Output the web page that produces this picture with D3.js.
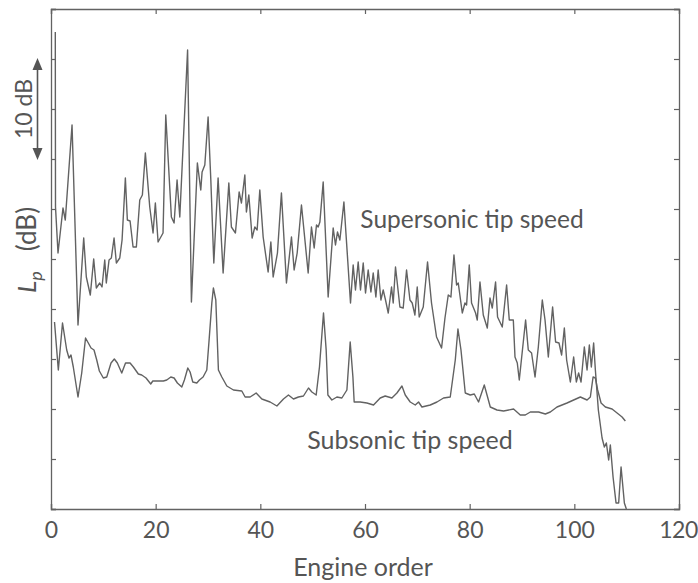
<!DOCTYPE html>
<html>
<head>
<meta charset="utf-8">
<script src="https://cdn.jsdelivr.net/npm/d3@7"></script>
<style>
  html, body { margin: 0; padding: 0; background: #fff; }
  svg { display: block; }
  text { font-family: Lato, "Open Sans", sans-serif; fill: #555; }
</style>
</head>
<body>
<svg id="chart" width="698" height="583"></svg>
<script>
// Engine order (x) and level in dB above arbitrary datum (y)
const superOrder = [0.82,0.86,1.34,2.29,2.73,4.02,5.16,6.25,6.75,7.51,8.16,8.66,9.31,9.75,10.27,10.57,11.09,11.53,12.05,12.49,13.14,13.58,14.21,14.59,15.11,15.68,16.31,16.96,17.46,18.03,18.87,19.50,19.94,20.46,21.41,21.93,23.00,23.52,24.09,24.61,26.10,26.83,27.97,28.62,28.87,29.39,30.02,30.54,31.11,31.93,32.89,33.98,34.47,35.24,35.95,36.39,37.04,37.34,37.80,38.43,38.95,39.39,39.90,40.54,41.49,42.01,42.45,43.27,44.03,44.99,45.95,46.46,47.04,47.86,49.14,49.77,50.29,50.73,51.05,51.38,52.01,52.96,53.92,54.36,54.74,55.20,55.97,57.23,57.74,58.18,58.70,59.14,59.66,60.10,60.61,61.13,61.57,62.08,62.52,63.04,63.48,63.92,64.44,65.07,65.39,65.83,66.67,67.30,67.94,68.59,69.02,69.54,69.98,70.36,71.13,71.95,72.71,73.67,74.63,75.28,75.91,76.42,77.00,77.50,77.82,78.59,79.10,79.41,79.92,80.36,81.13,81.45,81.97,82.60,83.37,83.88,84.32,84.95,85.33,86.23,87.06,87.57,88.34,88.66,89.10,89.48,90.69,91.20,91.83,92.49,93.12,93.88,94.40,95.03,95.85,96.42,97.07,97.57,98.09,98.53,99.24,99.87,100.38,100.82,101.28,101.91,102.43,102.87,103.25,103.69,104.02,104.59,105.30,105.74,106.12,106.56,106.88,107.40,107.97,108.47,108.93,109.56,109.94];
const superLevel = [47.7,30.2,25.6,30.1,28.9,38.4,18.4,27.1,23.2,21.4,25.0,22.1,22.6,22.2,24.9,22.6,24.9,25.1,27.1,24.6,25.1,26.9,33.1,28.9,28.8,26.2,26.2,30.9,31.4,35.6,30.2,27.6,30.6,26.7,27.6,39.4,29.2,28.6,32.9,29.2,45.9,20.7,34.6,31.9,33.7,34.4,39.2,32.9,24.6,33.1,23.6,32.6,28.2,27.6,31.7,30.6,33.4,29.7,31.4,27.1,28.2,27.9,31.9,27.2,23.7,26.7,23.2,25.6,31.6,22.6,27.2,23.9,25.6,30.4,23.6,28.2,26.1,28.4,28.2,28.7,32.7,21.2,28.1,26.4,27.7,26.9,30.7,20.6,24.4,21.9,24.7,21.9,24.6,21.6,23.9,21.7,23.6,21.2,23.9,20.9,21.9,20.9,19.6,22.2,20.6,24.2,20.2,20.1,23.9,20.9,20.6,19.4,22.2,19.2,20.2,24.7,20.6,17.2,16.1,19.1,21.4,21.2,25.4,22.4,22.6,19.6,20.6,20.4,24.4,20.6,19.6,18.9,22.7,19.4,18.1,21.1,20.1,22.7,19.2,18.2,22.4,18.9,18.9,15.2,14.6,12.9,18.9,15.9,15.6,13.2,16.2,20.9,18.9,15.2,20.2,16.7,16.6,15.4,18.1,14.9,12.7,15.2,12.7,13.6,12.7,16.2,13.9,16.4,14.2,16.6,13.9,9.9,7.1,6.2,6.6,4.9,6.4,3.2,0.6,0.6,4.2,0.6,0.0];

const subOrder = [0.67,1.40,2.20,3.00,3.44,3.82,4.26,5.16,5.87,6.60,7.13,7.65,8.22,8.74,9.24,10.00,10.65,11.47,12.10,12.68,13.52,14.24,15.11,15.74,16.69,17.34,18.16,19.06,19.45,21.47,22.12,22.89,23.52,24.15,24.99,25.49,26.14,26.58,27.09,27.86,28.36,29.06,29.77,30.21,30.73,31.03,31.49,31.99,32.64,33.60,34.86,36.46,37.09,38.05,39.20,40.29,41.87,43.16,44.42,45.37,46.33,47.28,48.24,49.20,49.85,50.67,51.30,52.07,52.58,52.91,53.67,54.63,55.58,56.54,57.17,57.69,57.93,59.08,60.36,61.63,62.91,63.86,65.14,66.10,67.06,67.69,68.64,69.60,70.23,70.88,72.47,73.75,75.01,76.29,77.25,77.76,78.34,79.16,80.11,80.88,81.70,82.79,83.42,83.94,85.22,86.48,88.39,89.67,90.63,91.59,93.17,94.46,95.41,96.69,98.60,99.87,101.15,102.43,103.06,103.58,104.02,104.46,105.11,105.93,107.21,108.17,109.12,109.75];
const subLevel = [18.7,13.9,18.6,15.9,15.1,15.4,14.2,11.2,13.6,17.1,16.6,16.1,15.9,14.9,13.8,13.1,13.2,14.6,15.0,14.6,13.6,14.6,14.6,14.2,13.5,13.4,13.1,12.5,12.8,12.8,12.9,13.2,13.1,12.6,12.2,12.9,14.1,13.7,12.7,12.6,12.9,13.2,13.9,16.9,20.6,22.1,20.9,13.9,13.2,12.3,11.9,11.8,11.2,11.2,11.6,11.0,10.7,10.3,11.0,11.4,11.0,11.2,11.3,12.1,11.7,11.4,14.2,19.6,15.9,11.4,10.9,11.2,11.1,11.9,16.7,13.2,10.7,10.7,10.6,10.4,11.1,11.3,11.1,11.6,12.3,11.4,10.7,10.4,10.7,10.2,10.4,10.7,11.1,11.2,14.9,18.0,15.9,11.6,11.4,11.5,10.7,12.4,11.2,10.2,9.9,9.8,10.0,9.4,9.4,9.7,9.7,9.5,9.7,10.2,10.6,10.9,11.2,10.9,11.2,13.2,13.1,11.9,10.6,10.2,10.0,9.6,9.2,8.8];

const xTicks = [0, 20, 40, 60, 80, 100, 120];
const yTicks = [0, 5, 10, 15, 20, 25, 30, 35, 40, 45, 50];
const xTitle = "Engine order";
const yTitleMain = "L";
const yTitleSub = "p";
const yTitleUnit = "(dB)";
const scaleBarLabel = "10 dB";
const superLabel = "Supersonic tip speed";
const subLabel = "Subsonic tip speed";

const svg = d3.select("#chart");
const L = 51, R = 679, T = 9, B = 509;
const x = d3.scaleLinear().domain([0, 120]).range([L, R]);
const y = d3.scaleLinear().domain([0, 50]).range([B, T]);
const stroke = "#626262";

// axes (inward ticks)
const tk = 5;
const gB = svg.append("g").attr("transform", `translate(0,${B})`)
  .call(d3.axisBottom(x).tickValues(xTicks).tickSize(-tk).tickPadding(13).tickFormat(d3.format("d")));
const gT = svg.append("g").attr("transform", `translate(0,${T})`)
  .call(d3.axisTop(x).tickValues(xTicks).tickSize(-tk).tickFormat(""));
const gL = svg.append("g").attr("transform", `translate(${L},0)`)
  .call(d3.axisLeft(y).tickValues(yTicks).tickSize(-tk).tickFormat(""));
const gR = svg.append("g").attr("transform", `translate(${R},0)`)
  .call(d3.axisRight(y).tickValues(yTicks).tickSize(-tk).tickFormat(""));
[gB, gT, gL, gR].forEach(g => {
  g.select(".domain").attr("stroke", stroke).attr("stroke-width", 1.3);
  g.selectAll(".tick line").attr("stroke", stroke).attr("stroke-width", 1.2);
});
gB.selectAll(".tick text").attr("font-size", 23).attr("fill", "#555")
  .attr("font-family", "Lato, sans-serif")
  .attr("dx", d => d === 120 ? -1 : 0)
  .attr("letter-spacing", d => d === 120 ? -0.5 : 0);

// lines
const line = d3.line().x(d => x(d[0])).y(d => y(d[1]));
svg.append("path")
  .datum(superOrder.map((o, i) => [o, superLevel[i]]))
  .attr("d", line).attr("fill", "none").attr("stroke", stroke)
  .attr("stroke-width", 1.4).attr("stroke-linejoin", "round");
svg.append("path")
  .datum(subOrder.map((o, i) => [o, subLevel[i]]))
  .attr("d", line).attr("fill", "none").attr("stroke", stroke)
  .attr("stroke-width", 1.4).attr("stroke-linejoin", "round");

// labels
svg.append("text").attr("x", 363).attr("y", 576).attr("text-anchor", "middle")
  .attr("font-size", 25).text(xTitle);
svg.append("text").attr("x", 472).attr("y", 228).attr("text-anchor", "middle")
  .attr("font-size", 24.5).text(superLabel);
svg.append("text").attr("x", 410).attr("y", 449).attr("text-anchor", "middle")
  .attr("font-size", 25).text(subLabel);

const yt = svg.append("text").attr("transform", "translate(36,250) rotate(-90)")
  .attr("text-anchor", "middle").attr("font-size", 26);
yt.append("tspan").attr("font-style", "italic").text(yTitleMain);
yt.append("tspan").attr("font-style", "italic").attr("font-size", 18).attr("dy", 6).text(yTitleSub);
yt.append("tspan").attr("dy", -6).attr("dx", 20).text(yTitleUnit);

// 10 dB scale arrow
const ax = 37.5, yTop = y(45), yBot = y(35);
svg.append("line").attr("x1", ax).attr("x2", ax).attr("y1", yTop + 8).attr("y2", yBot - 8)
  .attr("stroke", "#555").attr("stroke-width", 1.6);
svg.append("path").attr("d", `M${ax},${yTop - 1} L${ax - 5},${yTop + 11} L${ax + 5},${yTop + 11} Z`).attr("fill", "#555");
svg.append("path").attr("d", `M${ax},${yBot + 1} L${ax - 5},${yBot - 11} L${ax + 5},${yBot - 11} Z`).attr("fill", "#555");
svg.append("text").attr("transform", `translate(32,${(yTop + yBot) / 2}) rotate(-90)`)
  .attr("text-anchor", "middle").attr("font-size", 23).text(scaleBarLabel);
</script>
</body>
</html>
